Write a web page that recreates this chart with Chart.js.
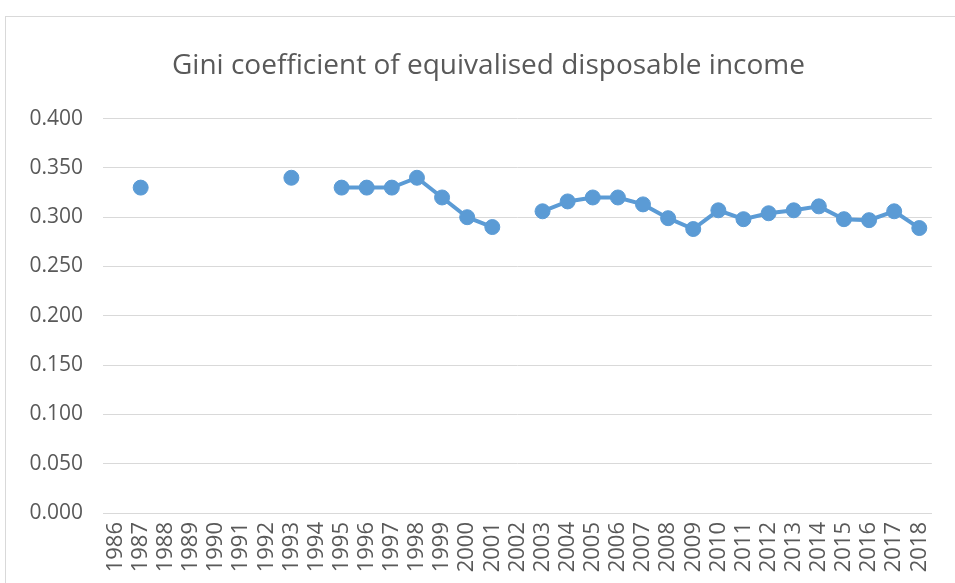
<!DOCTYPE html>
<html lang="en">
<head>
    <meta charset="UTF-8">
    <title>Gini coefficient</title>
    <script src="https://cdn.jsdelivr.net/npm/chart.js"></script>
    <style>
        * {
            margin: 0;
            padding: 0;
            box-sizing: border-box;
        }
        body {
            width: 955px;
            height: 583px;
            background: #ffffff;
            overflow: hidden;
            position: relative;
        }
        .frame {
            position: absolute;
            left: 5px;
            top: 16px;
            width: 970px;
            height: 600px;
            border: 1px solid #d9d9d9;
        }
        .chart-box {
            position: absolute;
            left: 0;
            top: 0;
            width: 955px;
            height: 583px;
        }
    </style>
</head>
<body>
    <div class="frame"></div>
    <div class="chart-box">
        <canvas id="giniChart" width="955" height="583"></canvas>
    </div>

    <script>
        const years = ["1986", "1987", "1988", "1989", "1990", "1991", "1992", "1993", "1994", "1995",
            "1996", "1997", "1998", "1999", "2000", "2001", "2002", "2003", "2004", "2005",
            "2006", "2007", "2008", "2009", "2010", "2011", "2012", "2013", "2014", "2015",
            "2016", "2017", "2018"];
        const gini = [null, 0.330, null, null, null, null, null, 0.340, null, 0.330,
            0.330, 0.330, 0.340, 0.320, 0.300, 0.290, null, 0.306, 0.316, 0.320,
            0.320, 0.313, 0.299, 0.288, 0.307, 0.298, 0.304, 0.307, 0.311, 0.298,
            0.297, 0.306, 0.289];
        const yTicks = [0, 0.05, 0.1, 0.15, 0.2, 0.25, 0.3, 0.35, 0.4];

        const blue = "#5b9bd5";
        const gray = "#595959";

        // nudge the title centre to the right, like the framed original
        const shiftTitle = {
            id: "shiftTitle",
            afterLayout(chart) {
                if (chart.titleBlock) chart.titleBlock.left += 42;
            }
        };

        new Chart(document.getElementById("giniChart").getContext("2d"), {
            type: "line",
            data: {
                labels: years,
                datasets: [{
                    label: "Gini",
                    data: gini,
                    borderColor: blue,
                    backgroundColor: blue,
                    borderWidth: 4,
                    pointRadius: 7.5,
                    pointHoverRadius: 7.5,
                    pointBackgroundColor: blue,
                    pointBorderColor: blue,
                    pointBorderWidth: 1,
                    spanGaps: false,
                    tension: 0
                }]
            },
            plugins: [shiftTitle],
            options: {
                responsive: false,
                animation: false,
                devicePixelRatio: 1,
                layout: { padding: { left: 0, right: 20, top: 0, bottom: 0 } },
                plugins: {
                    legend: { display: false },
                    tooltip: { enabled: false },
                    title: {
                        display: true,
                        text: "Gini coefficient of equivalised disposable income",
                        color: gray,
                        font: { family: "Open Sans", size: 28, weight: "normal", lineHeight: 1.2 },
                        padding: { top: 49, bottom: 36 }
                    }
                },
                scales: {
                    x: {
                        offset: true,
                        grid: { display: false, drawTicks: false },
                        border: { display: true, color: "#d9d9d9", width: 1 },
                        ticks: {
                            color: gray,
                            font: { family: "Open Sans", size: 22 },
                            minRotation: 90,
                            maxRotation: 90,
                            autoSkip: false,
                            padding: 9
                        },
                        afterFit: function (scale) { scale.height = 70; }
                    },
                    y: {
                        min: 0,
                        max: 0.4,
                        afterBuildTicks: function (scale) {
                            scale.ticks = yTicks.map(v => ({ value: v }));
                        },
                        grid: { color: "#d9d9d9", lineWidth: 1, drawTicks: false },
                        border: { display: false },
                        ticks: {
                            color: gray,
                            font: { family: "Open Sans", size: 21 },
                            padding: 20,
                            callback: v => v.toFixed(3)
                        },
                        afterFit: function (scale) { scale.width = 103; }
                    }
                }
            }
        });
    </script>
</body>
</html>
